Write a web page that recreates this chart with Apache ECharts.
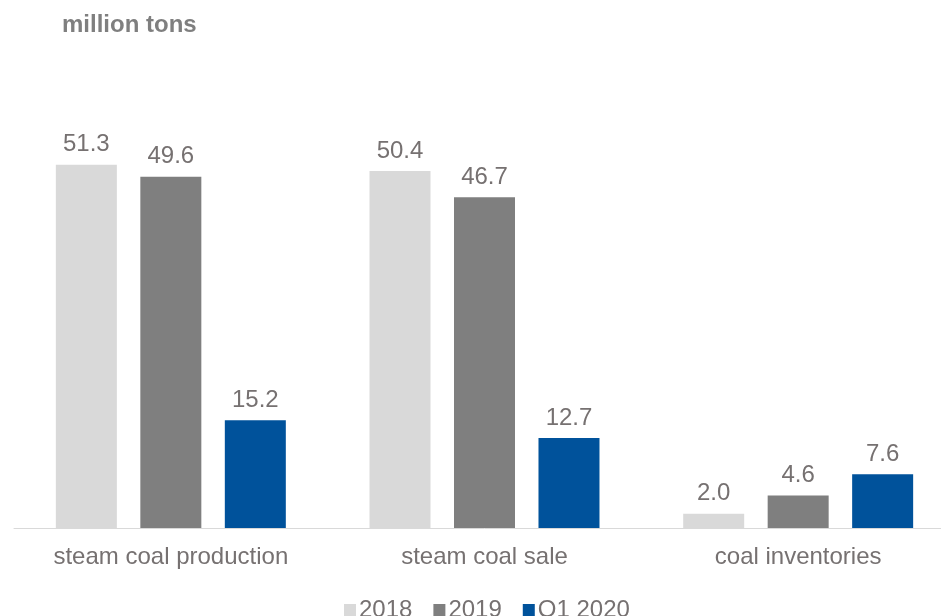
<!DOCTYPE html>
<html>
<head>
<meta charset="utf-8">
<script src="https://cdn.jsdelivr.net/npm/echarts@6/dist/echarts.min.js"></script>
<style>html,body{margin:0;padding:0;background:#fff;overflow:hidden;width:941px;height:616px;}#c{width:955px;height:616px;}</style>
</head>
<body>
<div id="c"></div>
<script>
var categories = ['steam coal production', 'steam coal sale', 'coal inventories'];
var seriesNames = ['2018', '2019', 'Q1 2020'];
var values2018 = [51.3, 50.4, 2.0];
var values2019 = [49.6, 46.7, 4.6];
var valuesQ12020 = [15.2, 12.7, 7.6];
var colors = ['#d9d9d9', '#7f7f7f', '#00529b'];
var allValues = [values2018, values2019, valuesQ12020];

var font = 'Liberation Sans, Arial, sans-serif';
var textColor = '#767171';

var chart = echarts.init(document.getElementById('c'), null, {renderer: 'canvas'});
chart.setOption({
  animation: false,
  title: {
    text: 'million tons',
    left: 57, top: 8,
    textStyle: {fontFamily: font, fontSize: 24, fontWeight: 'bold', color: '#7f7f7f'}
  },
  legend: {
    left: 339, top: 593,
    itemWidth: 12, itemHeight: 12, itemGap: 21,
    icon: 'rect',
    textStyle: {fontFamily: font, fontSize: 24, color: textColor, padding: [0, 0, 0, -2]},
    data: seriesNames
  },
  grid: {left: 14, top: 103, right: 0, height: 425, containLabel: false},
  xAxis: {
    type: 'category',
    data: categories,
    axisLine: {lineStyle: {color: '#d9d9d9', width: 1}},
    axisTick: {show: false},
    axisLabel: {fontFamily: font, fontSize: 24, color: textColor, margin: 17}
  },
  yAxis: {type: 'value', min: 0, max: 60, show: false, splitLine: {show: false}},
  series: seriesNames.map(function (name, i) {
    return {
      name: name,
      type: 'bar',
      data: allValues[i],
      barWidth: 61,
      barGap: '38.5%',
      itemStyle: {color: colors[i]},
      label: {
        show: true, position: 'top', distance: 8,
        fontFamily: font, fontSize: 24, color: textColor,
        formatter: function (p) { return p.value.toFixed(1); }
      }
    };
  })
});
</script>
</body>
</html>
